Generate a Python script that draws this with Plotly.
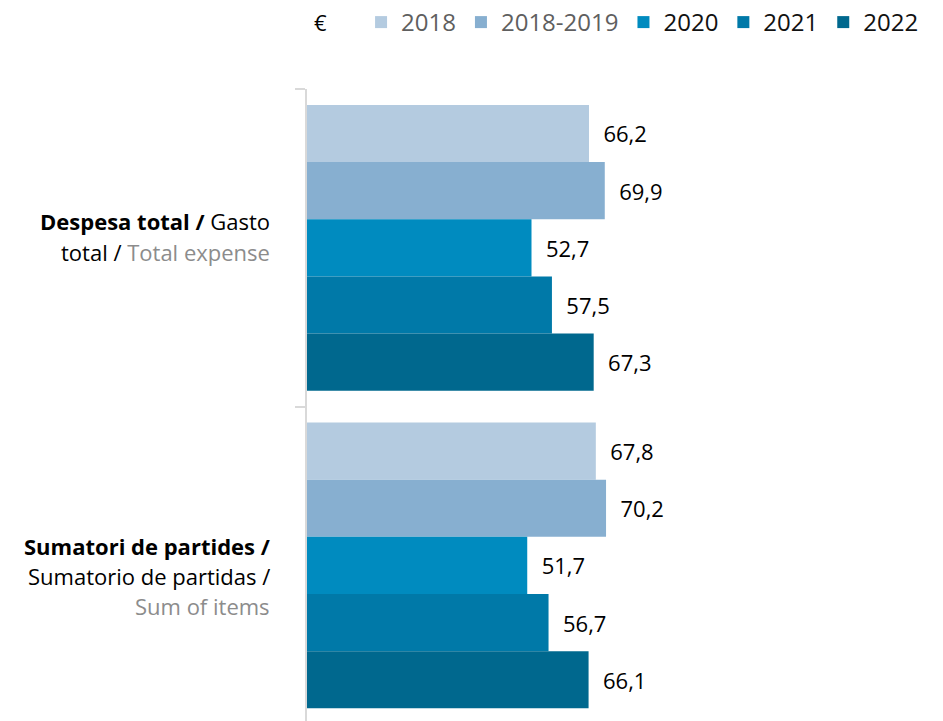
import plotly.graph_objects as go

# Categories (one per group of bars) and the yearly series, in €
categories = ["Despesa total", "Sumatori de partides"]
series_names = ["2018", "2018-2019", "2020", "2021", "2022"]
series_values = {
    "2018":      [66.2, 67.8],
    "2018-2019": [69.9, 70.2],
    "2020":      [52.7, 51.7],
    "2021":      [57.5, 56.7],
    "2022":      [67.3, 66.1],
}
series_colors = {
    "2018":      "#b4cbe0",
    "2018-2019": "#87afd0",
    "2020":      "#008bbf",
    "2021":      "#0079a8",
    "2022":      "#00688e",
}
legend_text_colors = {
    "2018": "#5f5f5f",
    "2018-2019": "#5f5f5f",
    "2020": "#111111",
    "2021": "#111111",
    "2022": "#111111",
}

# Category labels, drawn line by line: (text, pixel offset below plot top)
category_label_lines = [
    ("<b>Despesa total /</b> Gasto", 132),
    ("total / <span style='color:#8c8c8c'>Total expense</span>", 163),
    ("<b>Sumatori de partides /</b>", 457),
    ("Sumatorio de partidas /", 487),
    ("<span style='color:#8c8c8c'>Sum of items</span>", 517),
]

FONT = "'Open Sans', 'Noto Sans', sans-serif"
NBSP = "\u00a0"

fig = go.Figure()
for name in series_names:
    fig.add_trace(go.Bar(
        name=f"<span style='color:{legend_text_colors[name]}'>{name}</span>",
        y=categories,
        x=series_values[name],
        orientation="h",
        marker=dict(color=series_colors[name], line=dict(width=0)),
        texttemplate=NBSP * 2 + "%{x:.1f}",
        textposition="outside",
        textfont=dict(family=FONT, size=22, color="#000000"),
        cliponaxis=False,
        hoverinfo="skip",
    ))

annotations = [
    dict(text="€", xref="paper", yref="paper", x=0, y=1, xshift=5, yshift=67,
         xanchor="left", yanchor="middle", showarrow=False,
         font=dict(family=FONT, size=22, color="#000000")),
]
for text, offset in category_label_lines:
    annotations.append(dict(
        text=text, xref="paper", yref="paper", x=0, y=1,
        xshift=-35, yshift=-offset, xanchor="right", yanchor="middle",
        showarrow=False, font=dict(family=FONT, size=22, color="#000000"),
    ))

fig.update_layout(
    width=943, height=721,
    margin=dict(l=307, r=0, t=88, b=0),
    paper_bgcolor="white", plot_bgcolor="white",
    barmode="group", bargap=0.1, bargroupgap=0,
    separators=",.",
    font=dict(family=FONT, color="#000000"),
    showlegend=True,
    legend=dict(
        orientation="h", x=0.085, xanchor="left", y=1.106, yanchor="middle",
        font=dict(family=FONT, size=24, color="#000000"),
        traceorder="normal", itemclick=False, itemdoubleclick=False,
    ),
    xaxis=dict(range=[0, 149.3], visible=False, fixedrange=True),
    yaxis=dict(
        type="category", range=[1.49, -0.5], showticklabels=False,
        showline=True, linecolor="#d9d9d9", linewidth=2,
        ticks="outside", tickson="boundaries", ticklen=10,
        tickcolor="#d9d9d9", tickwidth=2, showgrid=False, zeroline=False,
        fixedrange=True,
    ),
    annotations=annotations,
)

fig.write_html("out.html")
